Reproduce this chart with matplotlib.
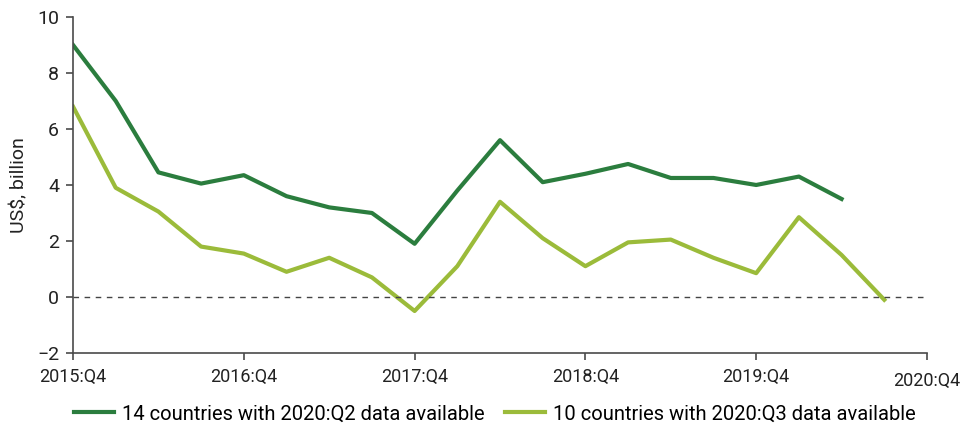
import matplotlib.pyplot as plt
import numpy as np

plt.rcParams['font.family'] = ['Roboto', 'DejaVu Sans']

# quarters from 2015:Q4
tick_labels = ["2015:Q4", "2016:Q4", "2017:Q4", "2018:Q4", "2019:Q4", "2020:Q4"]
q2_series = [9.0, 7.0, 4.45, 4.05, 4.35, 3.6, 3.2, 3.0, 1.9, 3.8,
             5.6, 4.1, 4.4, 4.75, 4.25, 4.25, 4.0, 4.3, 3.5]
q3_series = [6.8, 3.9, 3.05, 1.8, 1.55, 0.9, 1.4, 0.7, -0.5, 1.1,
             3.4, 2.1, 1.1, 1.95, 2.05, 1.4, 0.85, 2.85, 1.5, -0.1]
labels = ["14 countries with 2020:Q2 data available",
          "10 countries with 2020:Q3 data available"]

dark = "#2b7d3e"
light = "#9bbb3a"
axis_col = "#4a4a4a"

fig = plt.figure(figsize=(9.66, 4.33), dpi=100)
ax = fig.add_axes([0.0756, 0.1848, 0.884, 0.776])

ax.plot(np.arange(len(q2_series)), q2_series, color=dark, lw=3, label=labels[0])
ax.plot(np.arange(len(q3_series)), q3_series, color=light, lw=3, label=labels[1])
ax.axhline(0, color="#444444", lw=1, ls=(0, (4, 4)))

ax.set_xlim(0, 20)
ax.set_ylim(-2, 10)
ax.set_xticks(np.arange(0, 21, 4))
ax.set_xticklabels(tick_labels)
ax.set_yticks(np.arange(-2, 11, 2))
ax.set_yticklabels(["\u22122", "0", "2", "4", "6", "8", "10"])

for s in ["top", "right"]:
    ax.spines[s].set_visible(False)
for s in ["left", "bottom"]:
    ax.spines[s].set_color(axis_col)
    ax.spines[s].set_linewidth(1.2)
ax.tick_params(axis="both", colors=axis_col, labelcolor="#222222",
               length=5, width=1.2)
ax.tick_params(axis="y", labelsize=14, pad=5)
ax.tick_params(axis="x", labelsize=13, pad=6)
ax.xaxis.get_major_ticks()[-1].set_pad(9)

ax.set_ylabel("US$, billion", fontsize=14, color="#222222", labelpad=6)

fig.legend(loc="lower center", bbox_to_anchor=(0.512, -0.02), ncol=2,
           frameon=False, fontsize=14.5, handlelength=2.0, handletextpad=0.4,
           columnspacing=1.0)

plt.savefig("out.png", dpi=100)
